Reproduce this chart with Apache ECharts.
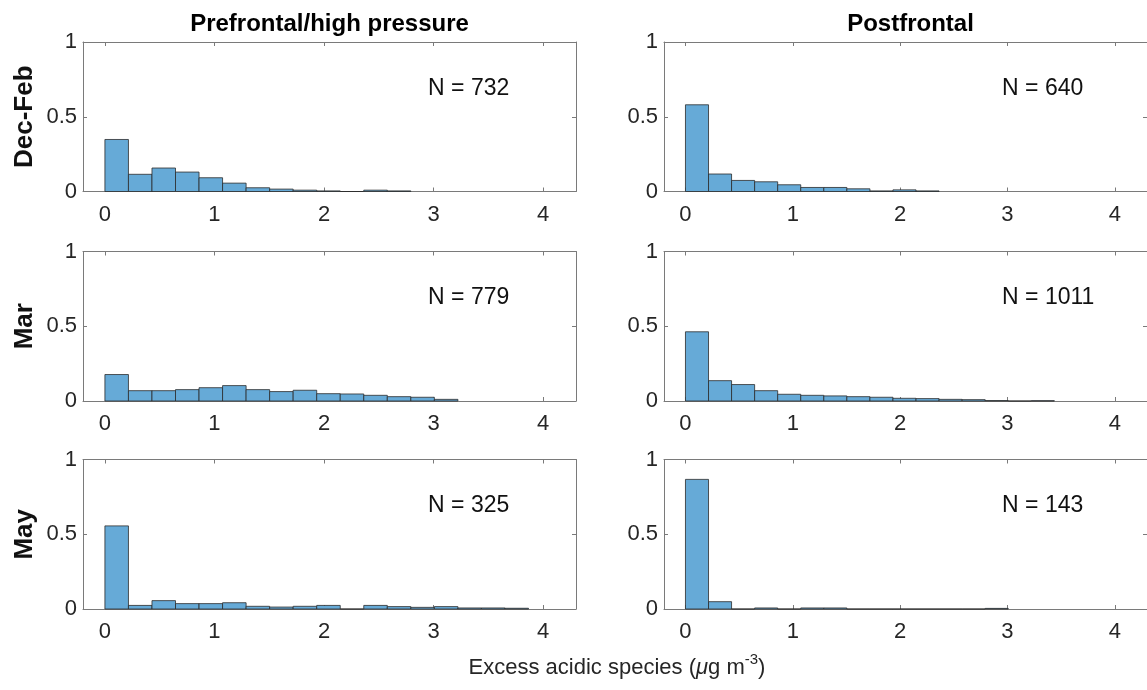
<!DOCTYPE html>
<html>
<head>
<meta charset="utf-8">
<script src="https://cdn.jsdelivr.net/npm/echarts@6/dist/echarts.min.js"></script>
<style>html,body{margin:0;padding:0;background:#fff}#c{width:1147px;height:690px}</style>
</head>
<body>
<div id="c"></div>
<script>
// ---- data ----
const binWidth = 0.2148;
const columnTitles = ['Prefrontal/high pressure', 'Postfrontal'];
const rowLabels = ['Dec-Feb', 'Mar', 'May'];
const xTicks = [0, 1, 2, 3, 4];
const yTicks = [0, 0.5, 1];
const decFebPre  = [0.348,0.115,0.157,0.130,0.092,0.056,0.025,0.016,0.009,0.004,0,0.009,0.004];
const decFebPost = [0.580,0.117,0.074,0.065,0.045,0.027,0.027,0.018,0.004,0.011,0.004];
const marPre     = [0.177,0.069,0.069,0.076,0.089,0.103,0.076,0.063,0.072,0.049,0.047,0.038,0.029,0.025,0.011];
const marPost    = [0.463,0.136,0.110,0.069,0.045,0.038,0.034,0.029,0.025,0.018,0.016,0.011,0.009,0.003,0,0.002];
const mayPre     = [0.556,0.024,0.056,0.036,0.036,0.042,0.018,0.013,0.018,0.024,0,0.024,0.016,0.011,0.016,0.007,0.007,0.005];
const mayPost    = [0.867,0.049,0,0.007,0,0.007,0.007,0,0,0,0,0,0,0.004];
const counts = [732, 640, 779, 1011, 325, 143];
const nLabelPos = [2.95, 0.69];

const panels = [decFebPre, decFebPost, marPre, marPost, mayPre, mayPost];

// ---- layout ----
const FONT = '"Liberation Sans", Arial, Helvetica, sans-serif';
const TXT = '#262626';
const AX = '#7a7a7a';
const colLeft = [83, 664];
const colWidth = 493;
const rowTop = [42, 251.5, 459.5];
const rowHeight = 149.5;

const grid = [], xAxis = [], yAxis = [], series = [];

panels.forEach((vals, i) => {
  const r = Math.floor(i / 2), c = i % 2;
  grid.push({left: colLeft[c], top: rowTop[r], width: colWidth, height: rowHeight, containLabel: false});
  const axBase = {
    type: 'value', gridIndex: i, min: -0.2, max: 4.3,
    splitLine: {show: false},
    axisLine: {show: true, onZero: false, lineStyle: {color: AX, width: 1}},
    axisTick: {show: true, inside: true, length: 4, customValues: xTicks, lineStyle: {color: AX}},
  };
  xAxis.push(Object.assign({}, axBase, {
    position: 'bottom',
    axisLabel: {show: true, customValues: xTicks, fontSize: 22, color: TXT, fontFamily: FONT, margin: 12}
  }));
  xAxis.push(Object.assign({}, axBase, {
    position: 'top', axisLabel: {show: false}
  }));
  const yBase = {
    type: 'value', gridIndex: i, min: 0, max: 1, interval: 0.5,
    splitLine: {show: false},
    axisLine: {show: true, onZero: false, lineStyle: {color: AX, width: 1}},
    axisTick: {show: true, inside: true, length: 4, lineStyle: {color: AX}},
  };
  yAxis.push(Object.assign({}, yBase, {
    position: 'left',
    axisLabel: {show: true, fontSize: 22, color: TXT, fontFamily: FONT, margin: 6,
      formatter: v => (yTicks.indexOf(v) >= 0 ? String(v) : '')}
  }));
  yAxis.push(Object.assign({}, yBase, {position: 'right', axisLabel: {show: false}}));

  series.push({
    type: 'custom', xAxisIndex: 2 * i, yAxisIndex: 2 * i, clip: false,
    data: vals.map((v, k) => [k * binWidth, (k + 1) * binWidth, v]),
    encode: {x: [0, 1], y: 2},
    renderItem: (params, api) => {
      const p0 = api.coord([api.value(0), api.value(2)]);
      const p1 = api.coord([api.value(1), 0]);
      return {
        type: 'rect',
        shape: {x: p0[0], y: p0[1], width: p1[0] - p0[0], height: p1[1] - p0[1]},
        style: {fill: '#66AAD7', stroke: '#2b2b2b', lineWidth: 0.8}
      };
    },
    z: 1
  });
  series.push({
    type: 'custom', xAxisIndex: 2 * i, yAxisIndex: 2 * i,
    data: [[nLabelPos[0], nLabelPos[1], counts[i]]],
    renderItem: (params, api) => {
      const p = api.coord([api.value(0), api.value(1)]);
      return {
        type: 'text', x: p[0], y: p[1],
        style: {text: 'N = ' + api.value(2), fontSize: 23, fontFamily: FONT, fill: '#111',
          align: 'left', verticalAlign: 'middle'}
      };
    },
    z: 3
  });
});

const graphic = [];
columnTitles.forEach((t, c) => {
  graphic.push({type: 'text', x: colLeft[c] + colWidth / 2, y: 24,
    style: {text: t, fontSize: 24, fontWeight: 'bold', fontFamily: FONT, fill: '#000',
      align: 'center', verticalAlign: 'middle'}});
});
rowLabels.forEach((t, r) => {
  graphic.push({type: 'text', x: 25, y: rowTop[r] + rowHeight / 2, rotation: Math.PI / 2,
    style: {text: t, fontSize: 26, fontWeight: 'bold', fontFamily: FONT, fill: '#111',
      align: 'center', verticalAlign: 'middle'}});
});
graphic.push({type: 'text', x: 617, y: 668,
  style: {
    text: 'Excess acidic species ({mu|μ}g m{sup|-3})',
    fontSize: 22, fontFamily: FONT, fill: TXT, align: 'center', verticalAlign: 'middle',
    rich: {
      mu: {fontSize: 22, fontFamily: FONT, fontStyle: 'italic', fill: TXT},
      sup: {fontSize: 15, fontFamily: FONT, fill: TXT, verticalAlign: 'top', padding: [0, 0, 16, 0]}
    }
  }});

const chart = echarts.init(document.getElementById('c'), null, {renderer: 'canvas'});
chart.setOption({
  animation: false,
  backgroundColor: '#fff',
  grid, xAxis, yAxis, series, graphic
});
</script>
</body>
</html>
